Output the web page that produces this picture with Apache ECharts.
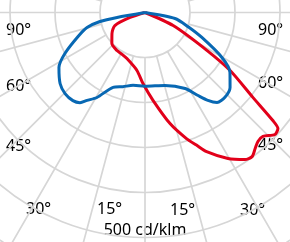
<!DOCTYPE html>
<html><head><meta charset="utf-8">
<script src="https://cdn.jsdelivr.net/npm/echarts@6/dist/echarts.min.js"></script>
<style>html,body{margin:0;padding:0;background:#fff}#c{width:290px;height:242px}</style>
</head><body><div id="c"></div>
<script>
// angles in degrees from nadir (0 = straight down, + = right), values in cd/klm
const blueAngles = [-82, -80, -78.7, -75.5, -70.3, -62.9, -57.4, -50.1, -44.6, -39.3, -35.8, -33.4, -29.5, -23.1, -16.6, -9.3, 0, 15.3, 27.8, 32.6, 35.6, 38.7, 43.3, 48.6, 54.8, 59.7, 66.3, 71.9, 78.7, 80];
const blueValues = [0, 63, 102, 133, 158, 200, 227, 246, 253, 253, 247, 234, 217, 181, 172, 164, 164, 168, 191, 219, 240, 256, 259, 252, 231, 198, 138, 100, 68, 0];
const redAngles = [-75, -71.6, -66.6, -57.5, -46.8, -36.4, -28.7, -21.4, -7.9, -1.6, 5.2, 12.7, 18.2, 21.2, 23.9, 29.6, 34.2, 36.6, 39, 41.2, 43.6, 46.8, 48.9, 49.8, 51.8, 55.7, 58.5, 65.1, 68];
const redValues = [0, 35, 73, 87, 101, 105, 106, 110, 130, 158, 196, 253, 295, 316, 338, 373, 395, 399, 389, 381, 380, 396, 392, 372, 305, 229, 162, 69, 0];
const ringValues = [100, 200, 300, 400, 500, 600];
const angleLabels = ['90°', '60°', '45°', '30°', '15°'];
const scaleLabel = '500 cd/klm';

const chart = echarts.init(document.getElementById('c'), null, {renderer: 'canvas'});
const leftPos = [[6, 30.5], [6, 86], [6, 146.5], [26, 209.5], [97, 209.5]];
const rightPos = [[258, 30.5], [258, 83.5], [258, 145], [240, 210], [170, 210]];
const font = '16px "Noto Sans"';
const graphics = [];
angleLabels.forEach((t, i) => {
  graphics.push({type: 'text', x: leftPos[i][0], y: leftPos[i][1], style: {text: t, font: font, fill: '#000', textVerticalAlign: 'middle'}});
  graphics.push({type: 'text', x: rightPos[i][0], y: rightPos[i][1], style: {text: t, font: font, fill: '#000', textVerticalAlign: 'middle'}});
});
graphics.push({type: 'text', x: 145, y: 230, style: {text: scaleLabel, font: font, fill: '#000', textAlign: 'center', textVerticalAlign: 'middle'}});

const hidden = {axisLine: {show: false}, axisTick: {show: false}, axisLabel: {show: false}};
chart.setOption({
  animation: false,
  polar: [
    {center: [145, 12.5], radius: [45, 270]},
    {center: [145, 12.5], radius: [0, 270]}
  ],
  angleAxis: [
    Object.assign({polarIndex: 0, type: 'value', min: -180, max: 180, interval: 15, startAngle: 90, clockwise: false,
      splitLine: {show: true, lineStyle: {color: '#d6d6d6', width: 1.7}}}, hidden),
    Object.assign({polarIndex: 1, type: 'value', min: -180, max: 180, interval: 15, startAngle: 90, clockwise: false,
      splitLine: {show: false}}, hidden)
  ],
  radiusAxis: [
    Object.assign({polarIndex: 0, type: 'value', min: ringValues[0], max: ringValues[ringValues.length - 1], interval: 100,
      splitLine: {show: true, lineStyle: {color: '#d6d6d6', width: 1.7}}}, hidden),
    Object.assign({polarIndex: 1, type: 'value', min: 0, max: 600, splitLine: {show: false}}, hidden)
  ],
  series: [
    {type: 'line', coordinateSystem: 'polar', polarIndex: 1, showSymbol: false, smooth: 0.25,
      data: redAngles.map((a, i) => [redValues[i], a]), lineStyle: {color: '#e2001a', width: 3}},
    {type: 'line', coordinateSystem: 'polar', polarIndex: 1, showSymbol: false, smooth: 0.25,
      data: blueAngles.map((a, i) => [blueValues[i], a]), lineStyle: {color: '#0868b3', width: 3}}
  ],
  graphic: graphics
});
</script></body></html>
